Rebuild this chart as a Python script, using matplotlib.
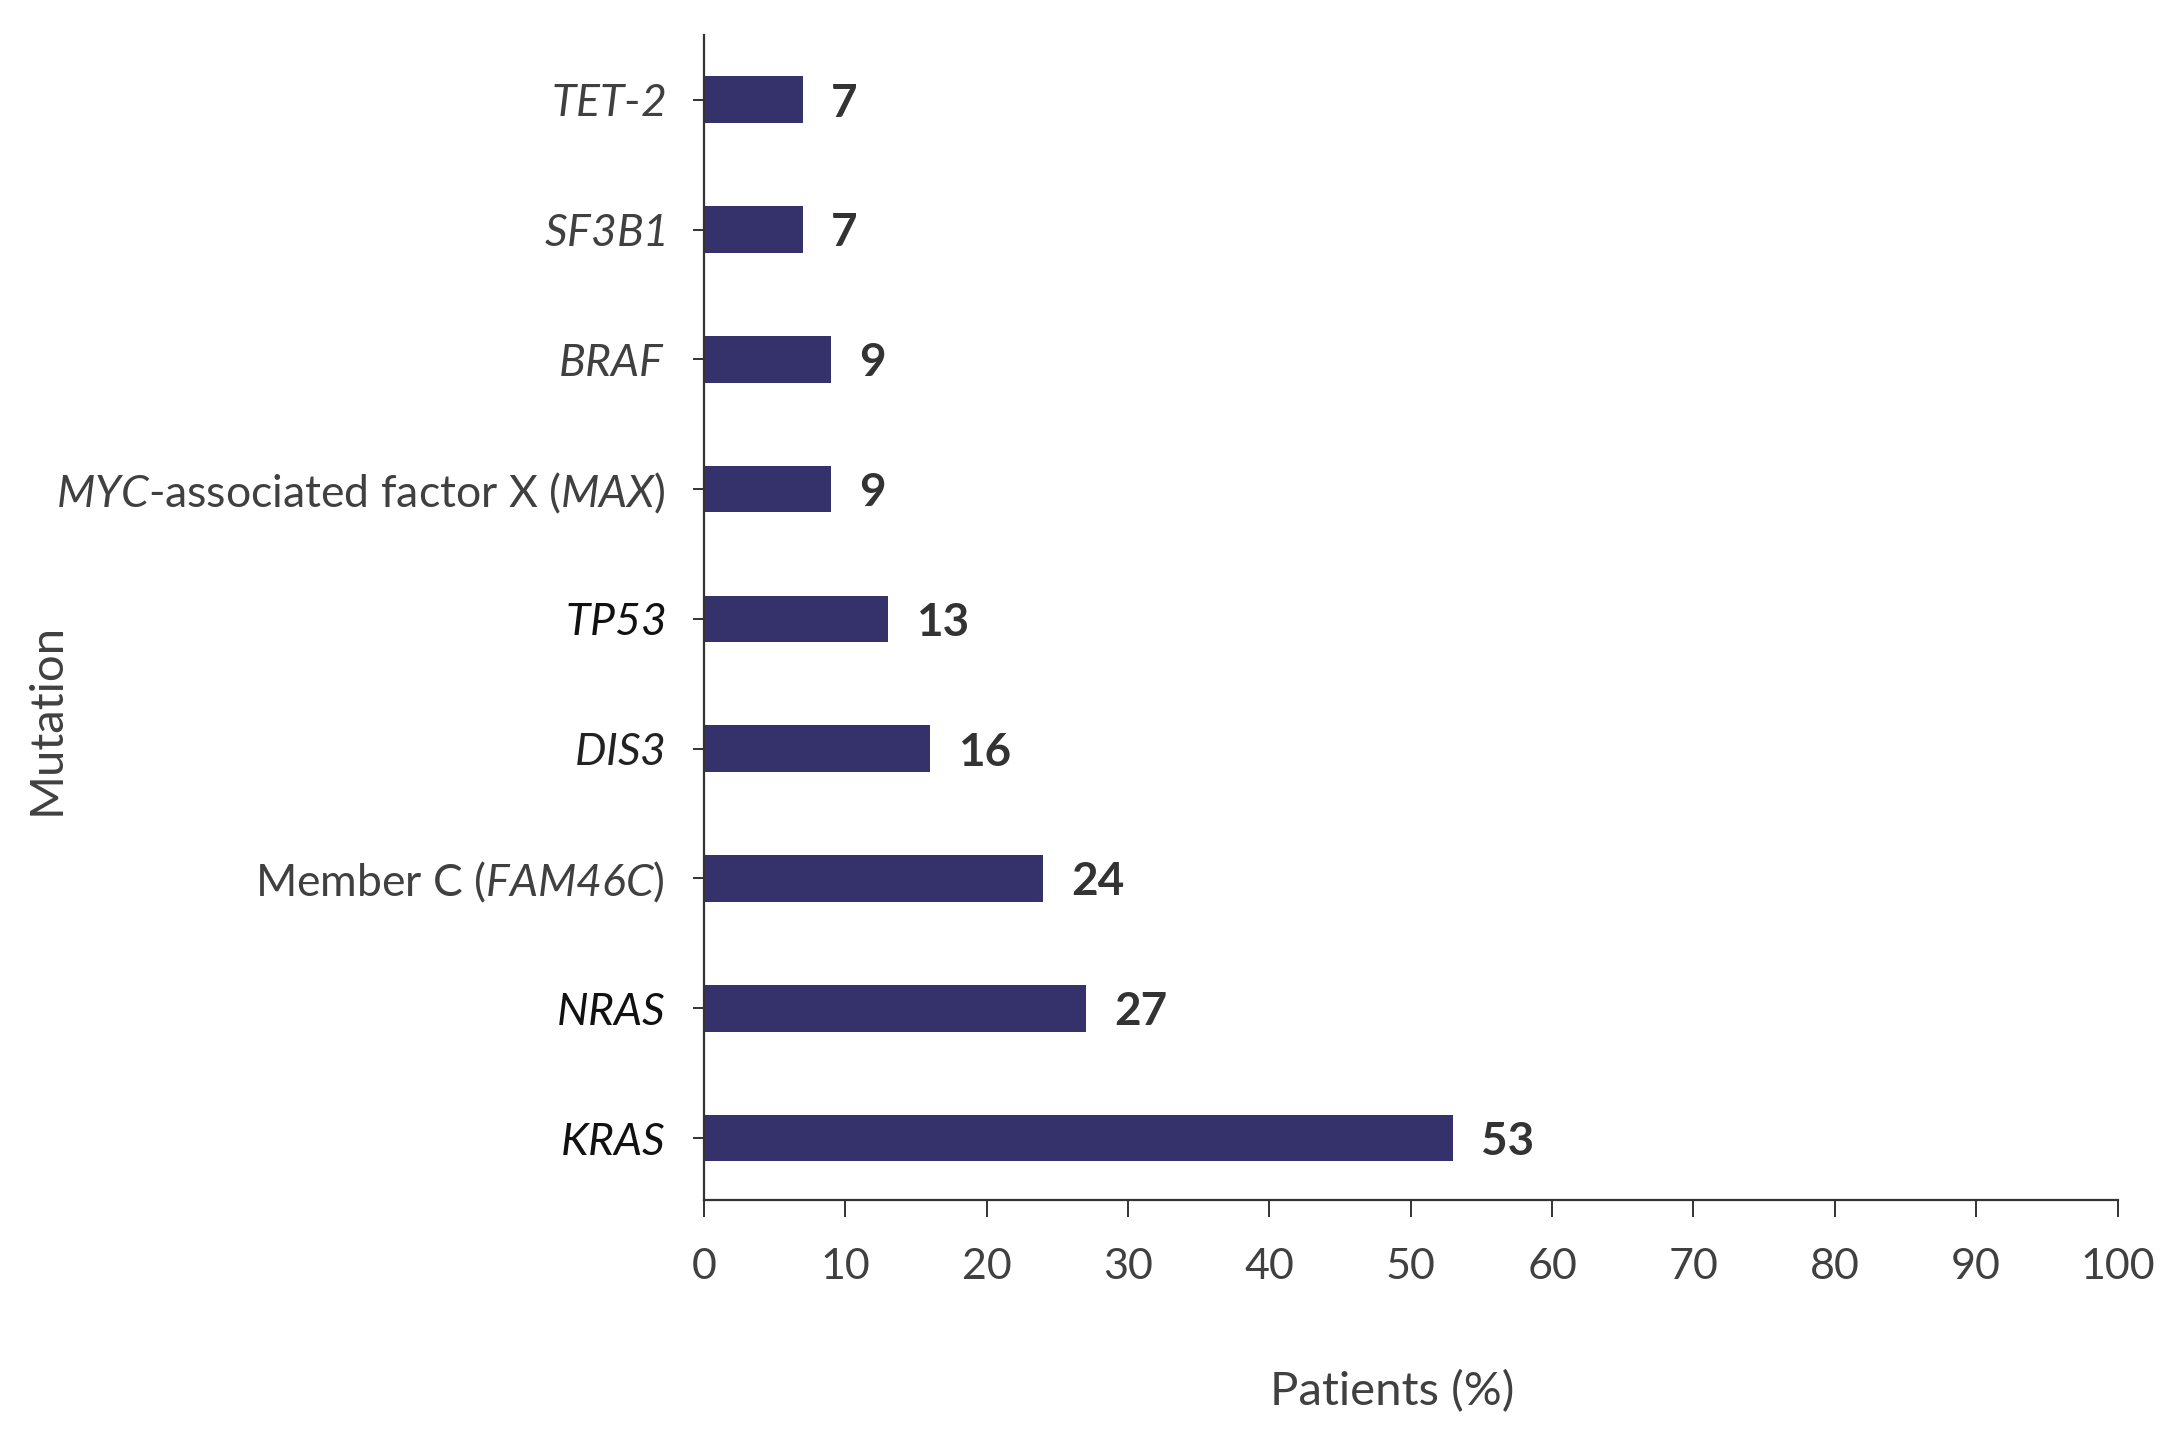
import numpy as np
import matplotlib.pyplot as plt

plt.rcParams['font.family'] = ['Lato', 'DejaVu Sans']
plt.rcParams['mathtext.fontset'] = 'custom'
plt.rcParams['mathtext.rm'] = 'Lato:italic'
plt.rcParams['mathtext.it'] = 'Lato:italic'

# bottom to top
mutations = ['KRAS', 'NRAS', 'Member C (FAM46C)', 'DIS3', 'TP53',
             'MYC-associated factor X (MAX)', 'BRAF', 'SF3B1', 'TET-2']
tick_labels = [r'$\mathrm{KRAS}$', r'$\mathrm{NRAS}$', r'Member C ($\mathrm{FAM46C}$)',
               r'$\mathrm{DIS3}$', r'$\mathrm{TP53}$',
               r'$\mathrm{MYC}$-associated factor X ($\mathrm{MAX}$)',
               r'$\mathrm{BRAF}$', r'$\mathrm{SF3B1}$', r'$\mathrm{TET}$-$\mathrm{2}$']
patients = [53, 27, 24, 16, 13, 9, 9, 7, 7]
label_colors = ['#111111', '#111111', '#404040', '#222222', '#111111',
                '#404040', '#404040', '#404040', '#404040']

bar_color = '#35316b'
text_color = '#404040'

fig = plt.figure(figsize=(21.83, 14.29), dpi=100)
ax = fig.add_axes([0.3225, 0.160, 0.6475, 0.8156])

y = np.arange(len(mutations))
ax.barh(y, patients, height=0.36, color=bar_color)

for yi, v in zip(y, patients):
    ax.text(v + 2.0, yi - 0.03, str(v), va='center', ha='left',
            fontsize=33, fontweight='bold', color='#333333')

ax.set_xlim(0, 100)
ax.set_ylim(-0.48, 8.5)
ax.set_xticks(np.arange(0, 101, 10))
ax.set_yticks(y)
ax.set_yticklabels(tick_labels)
for lab, c in zip(ax.get_yticklabels(), label_colors):
    lab.set_color(c)

for side in ['top', 'right']:
    ax.spines[side].set_visible(False)
for side in ['left', 'bottom']:
    ax.spines[side].set_color('#333333')
    ax.spines[side].set_linewidth(1.6)

ax.tick_params(axis='x', length=12, width=1.4, color='#333333', pad=22,
               labelsize=31, labelcolor=text_color)
ax.tick_params(axis='y', length=8, width=1.4, color='#333333', pad=20,
               labelsize=32)

ax.set_xlabel('Patients (%)', fontsize=34, color=text_color)
ax.xaxis.set_label_coords(0.487, -0.146)
fig.text(0.0215, 0.497, 'Mutation', rotation=90, va='center', ha='center',
         fontsize=34, color=text_color)

fig.savefig('out.png', dpi=100)
